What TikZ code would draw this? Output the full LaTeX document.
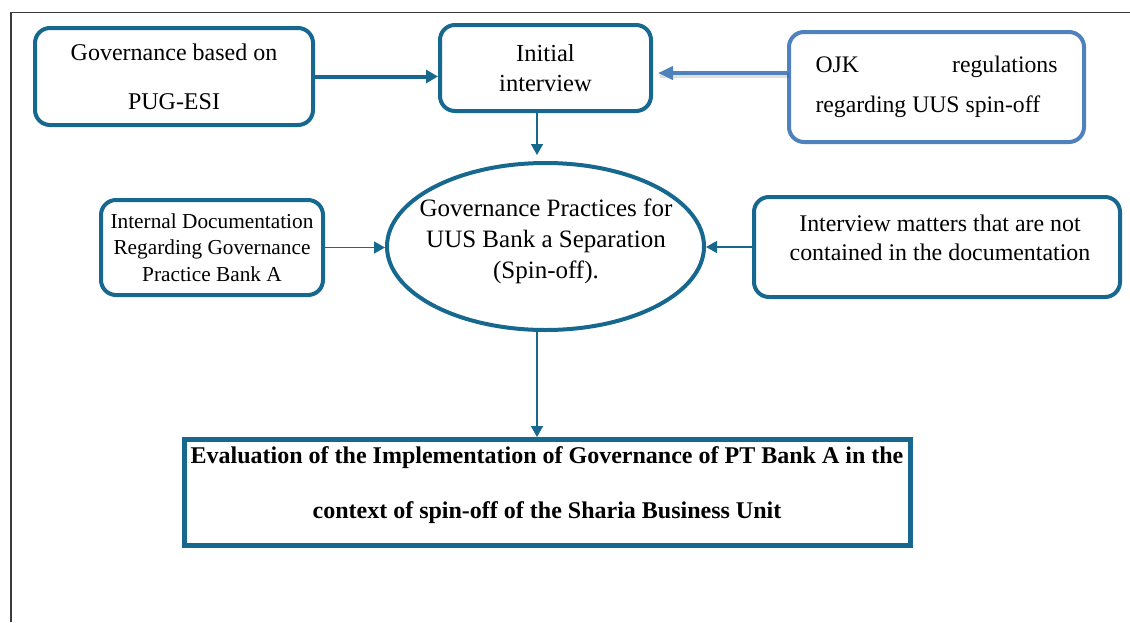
\documentclass[tikz,border=0pt]{standalone}
\usepackage{fontspec}
\setmainfont{Liberation Serif}
\usetikzlibrary{arrows.meta,shapes.geometric}

\definecolor{boxteal}{RGB}{22,104,143}
\definecolor{ojkblue}{RGB}{79,129,189}
\definecolor{framegray}{RGB}{60,60,60}

\tikzset{
  roundbox/.style={draw=boxteal, line width=2pt, rounded corners=7.5pt, fill=white,
    inner sep=0pt, align=center},
  thinarrow/.style={draw=boxteal, line width=0.75pt,
    -{Triangle[length=5.5pt,width=6pt]}},
  thickarrow/.style={draw=boxteal, line width=2pt,
    -{Triangle[length=6pt,width=6.5pt]}},
  txt/.style={inner sep=0pt, align=center, text=black},
}

\begin{document}
\begin{tikzpicture}[x=0.5pt,y=-0.5pt]
  \useasboundingbox (0,0) rectangle (1130,622);

  % page frame
  \draw[framegray, line width=0.75pt] (11,622) -- (11,12.5) -- (1130,12.5);

  % boxes
  \node[roundbox, minimum width=139pt, minimum height=48.5pt,
        font=\fontsize{12}{24.5}\selectfont] (pug) at (174,76.5)
        {Governance based on\\PUG-ESI};
  \node[roundbox, minimum width=105.5pt, minimum height=43pt,
        font=\fontsize{12.25}{15}\selectfont] (init) at (545.5,68)
        {Initial\\interview};
  \node[roundbox, draw=ojkblue, minimum width=147.5pt, minimum height=55pt,
        align=left, font=\fontsize{11.85}{20}\selectfont] (ojk) at (936.5,87)
        {\makebox[121pt][s]{OJK\hfill regulations}\\regarding UUS spin-off};
  \node[roundbox, minimum width=111pt, minimum height=47.5pt,
        font=\fontsize{10.65}{13.25}\selectfont] (doc) at (212,247.5)
        {Internal Documentation\\Regarding Governance\\Practice Bank A};
  \node[roundbox, minimum width=183pt, minimum height=50pt] (intv) at (937,247) {};
  \node[txt, font=\fontsize{11.95}{14.5}\selectfont] (intvtext) at (940,237.5)
        {Interview matters that are not\\contained in the documentation};

  % central ellipse
  \node[ellipse, draw=boxteal, line width=2pt, fill=white, inner sep=0pt,
        minimum width=158.5pt, minimum height=83.5pt] (gp) at (545.5,246.5) {};
  \node[txt, font=\fontsize{12.5}{15.5}\selectfont] (gptext) at (546,241.5)
        {Governance Practices for\\UUS Bank a Separation\\(Spin-off).};

  % result box
  \node[draw=boxteal, line width=2.5pt, fill=white, minimum width=363pt,
        minimum height=53pt, inner sep=0pt] (eval) at (547.5,492.5) {};
  \node[txt, font=\fontsize{12}{27.5}\selectfont\bfseries] (evaltext) at (547,485.5)
        {Evaluation of the Implementation of Governance of PT Bank A in the\\
         context of spin-off of the Sharia Business Unit};

  % connectors
  \draw[thickarrow] (pug.east) -- (pug.east -| init.west);

  \draw[line width=2.4pt, draw=black, opacity=0.12, shorten >=2.5pt]
        ([xshift=1pt,yshift=5.6pt]ojk.west) -- ([xshift=1pt,yshift=5.6pt]ojk.west -| init.east);
  \draw[draw=ojkblue, line width=2pt, shorten >=2.5pt,
        -{Triangle[length=7.5pt,width=6.5pt]}]
        ([yshift=7pt]ojk.west) -- ([yshift=7pt]ojk.west -| init.east);

  \draw[thinarrow, shorten >=3pt]
        ([xshift=-4.25pt]init.south) -- ([xshift=-4.25pt]init.south |- gp.north);
  \draw[thinarrow] (doc.east) -- (doc.east -| gp.west);
  \draw[thinarrow] (intv.west) -- (intv.west -| gp.east);
  \draw[thinarrow]
        ([xshift=-4.25pt]gp.south) -- ([xshift=-4.25pt]gp.south |- eval.north);
\end{tikzpicture}
\end{document}
